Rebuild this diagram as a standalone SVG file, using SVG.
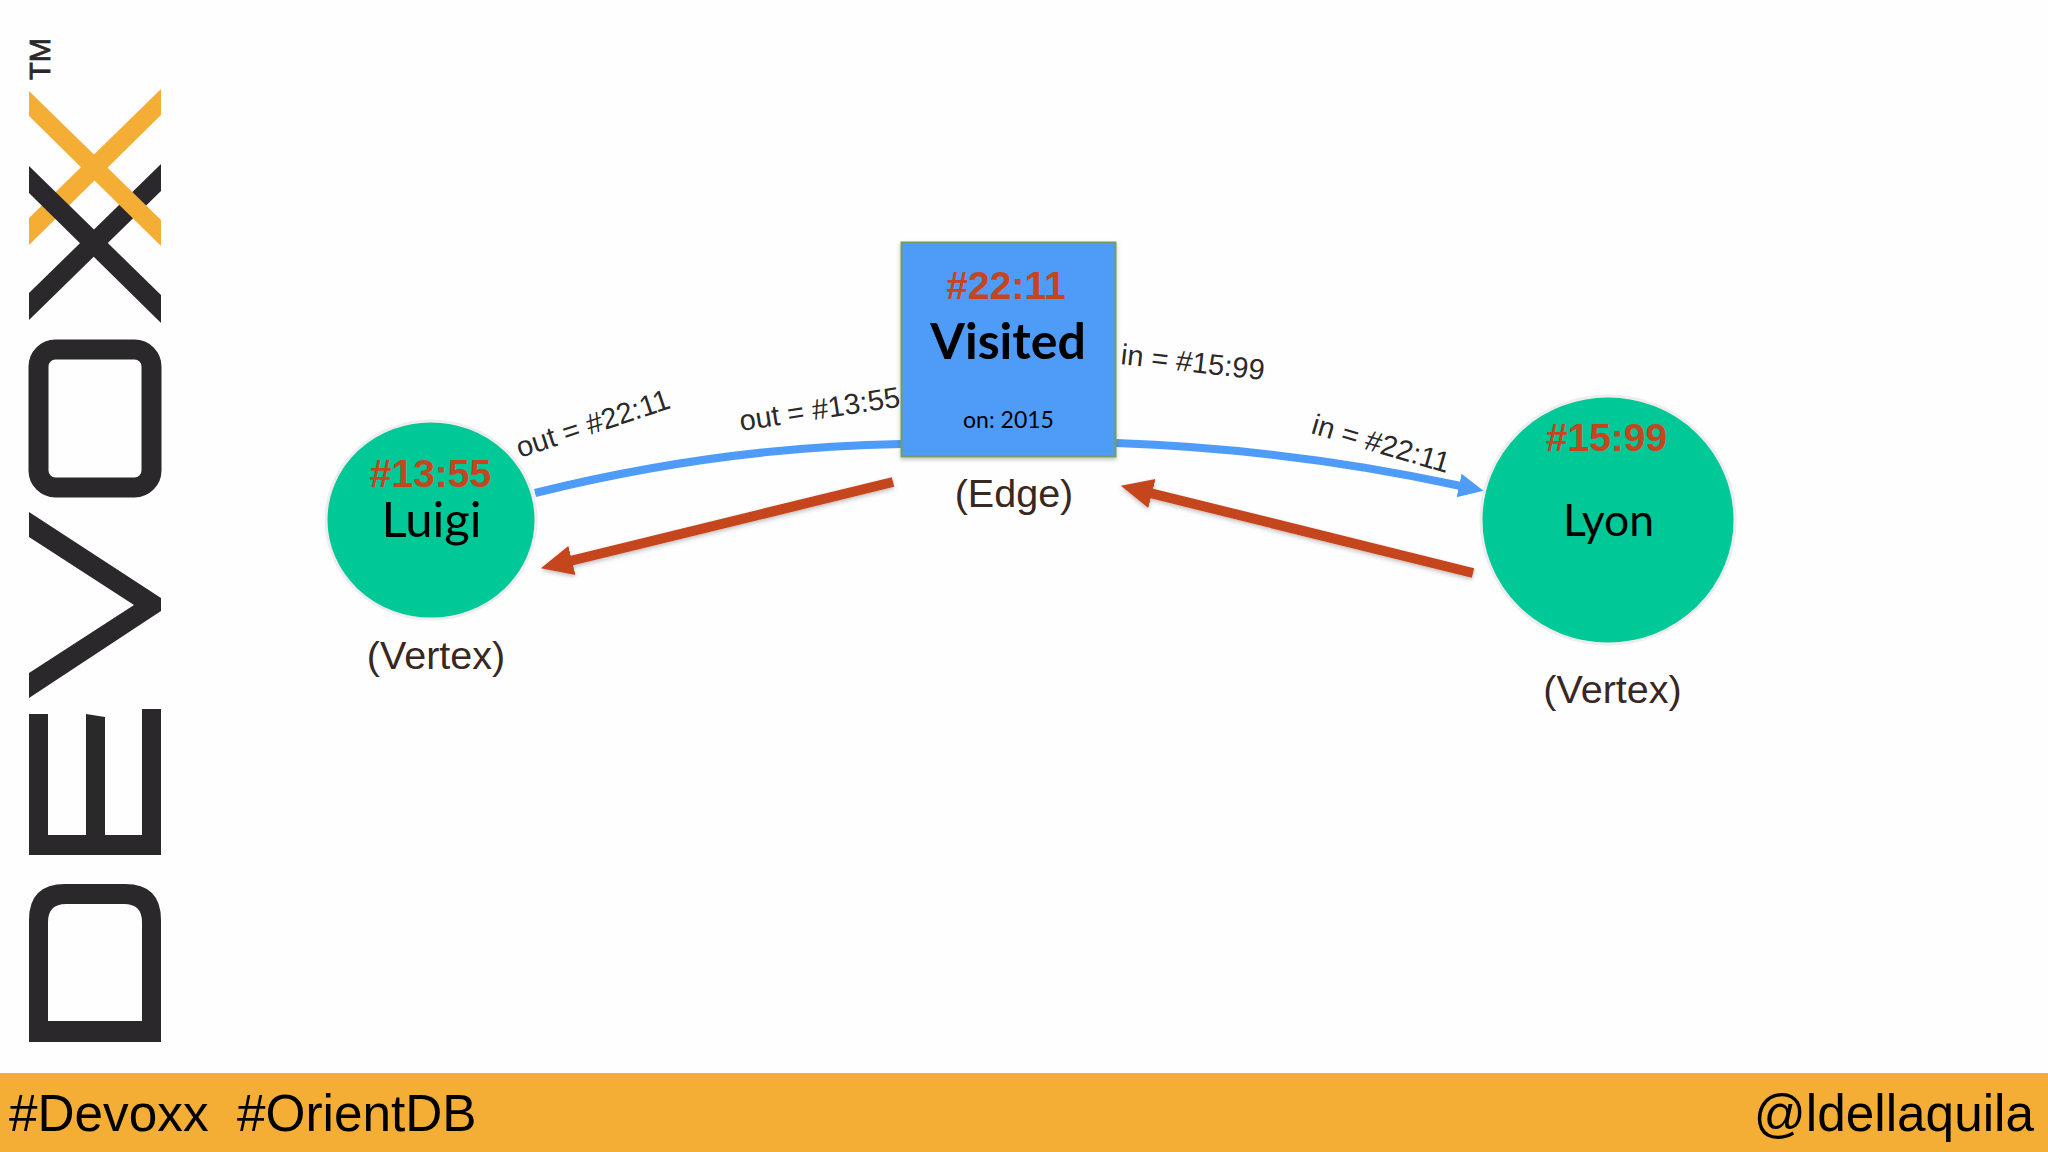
<svg xmlns="http://www.w3.org/2000/svg" width="2048" height="1152" viewBox="0 0 2048 1152">
<style>
text{font-family:"Liberation Sans",Arial,sans-serif}
.cal{font-family:Lato,"Open Sans",sans-serif;fill:#000}
.id{font-size:39px;font-weight:700;fill:#C5451F;text-anchor:middle}
.kind{font-size:39.5px;fill:#38281F;text-anchor:middle}
.attr{font-size:29px;fill:#2A2A2A}
.tag{font-size:51.3px;fill:#000}
.ink{fill:#2B282B}
.gold{fill:#F4AE36}
.vertex{fill:#00C997;stroke:#EDEDED;stroke-width:3}
.blue{fill:none;stroke:#4F9BF8;stroke-width:8}
.red{fill:none;stroke:#C5451F;stroke-width:10;filter:url(#sh)}
</style>
<defs>
<filter id="sh" x="-10%" y="-30%" width="120%" height="160%"><feDropShadow dx="0" dy="2" stdDeviation="2" flood-color="#000" flood-opacity=".25"/></filter>
<marker id="ah-blue" markerUnits="userSpaceOnUse" markerWidth="26" markerHeight="26" refX="2" refY="13" orient="auto"><polygon points="0,1 25,13 0,25" fill="#4F9BF8"/></marker>
<marker id="ah-red" markerUnits="userSpaceOnUse" markerWidth="33" markerHeight="32" refX="2" refY="16" orient="auto"><polygon points="0,1 32,16 0,31" fill="#C5451F"/></marker>
</defs>
<rect width="2048" height="1152" fill="#FEFEFE"/>
<g id="logo">
<text transform="translate(50 80) rotate(-90)" font-size="29" style="fill:#2B282B;stroke:#2B282B;stroke-width:.8">TM</text>
<polygon class="ink" points="161,164 161,191 29,320 29,293"/>
<polygon class="gold" points="29,91 29,116 161,246 161,220"/>
<polygon class="gold" points="161,89 161,115 29,245 29,218"/>
<polygon class="ink" points="29,166 29,193 161,323 161,295"/>
<rect x="38.5" y="349.5" width="113" height="138" rx="17" fill="none" stroke="#2B282B" stroke-width="20"/>
<polygon class="ink" points="29,512 29,537 134,605 29,673 29,698 161,611 161,598"/>
<polygon class="ink" points="29,714 48,714 48,835 86,835 86,714 105,717 105,835 142,835 142,709 161,709 161,855 29,855"/>
<path class="ink" fill-rule="evenodd" d="M29 1042V920Q29 884 65 884H125Q161 884 161 920V1042ZM48 1021H142V922Q142 904 124 904H66Q48 904 48 922Z"/>
</g>
<g id="connectors">
<path class="blue" d="M535 493Q720 447 901 444"/>
<path class="blue" d="M1116 443Q1290 449 1461 486" marker-end="url(#ah-blue)"/>
<path class="red" d="M893 482L570 561" marker-end="url(#ah-red)"/>
<path class="red" d="M1473 573L1150 493" marker-end="url(#ah-red)"/>
</g>
<g id="edge-labels">
<text class="attr" transform="translate(520 458) rotate(-18.3)">out = #22:11</text>
<text class="attr" transform="translate(741 431) rotate(-8.7)">out = #13:55</text>
<text class="attr" transform="translate(1120 364) rotate(6.4)">in = #15:99</text>
<text class="attr" transform="translate(1310 433) rotate(16.4)">in = #22:11</text>
</g>
<g id="luigi">
<ellipse class="vertex" cx="431" cy="520" rx="105" ry="99"/>
<text class="id" x="430.5" y="487">#13:55</text>
<text class="cal" x="431.5" y="537" font-size="49" text-anchor="middle">Luigi</text>
<text class="kind" x="436" y="669">(Vertex)</text>
</g>
<g id="visited">
<rect x="901.5" y="242.5" width="214" height="214" fill="#4F9BF8" stroke="#6F9F60" stroke-width="2" filter="url(#sh)"/>
<text class="id" x="1006" y="299">#22:11</text>
<text class="cal" x="1008" y="359" font-size="50" font-weight="700" text-anchor="middle">Visited</text>
<text class="cal" x="1008.5" y="428" font-size="23" text-anchor="middle">on: 2015</text>
<text class="kind" x="1014" y="507">(Edge)</text>
</g>
<g id="lyon">
<ellipse class="vertex" cx="1608" cy="520" rx="127" ry="124"/>
<text class="id" x="1606.5" y="451">#15:99</text>
<text class="cal" x="1608.5" y="536" font-size="44.5" text-anchor="middle">Lyon</text>
<text class="kind" x="1612.5" y="703">(Vertex)</text>
</g>
<g id="footer">
<rect y="1073" width="2048" height="79" fill="#F4AE36"/>
<text class="tag" x="9" y="1131" xml:space="preserve" style="white-space:pre">#Devoxx  #OrientDB</text>
<text class="tag" x="2034" y="1131" text-anchor="end">@ldellaquila</text>
</g>
</svg>
